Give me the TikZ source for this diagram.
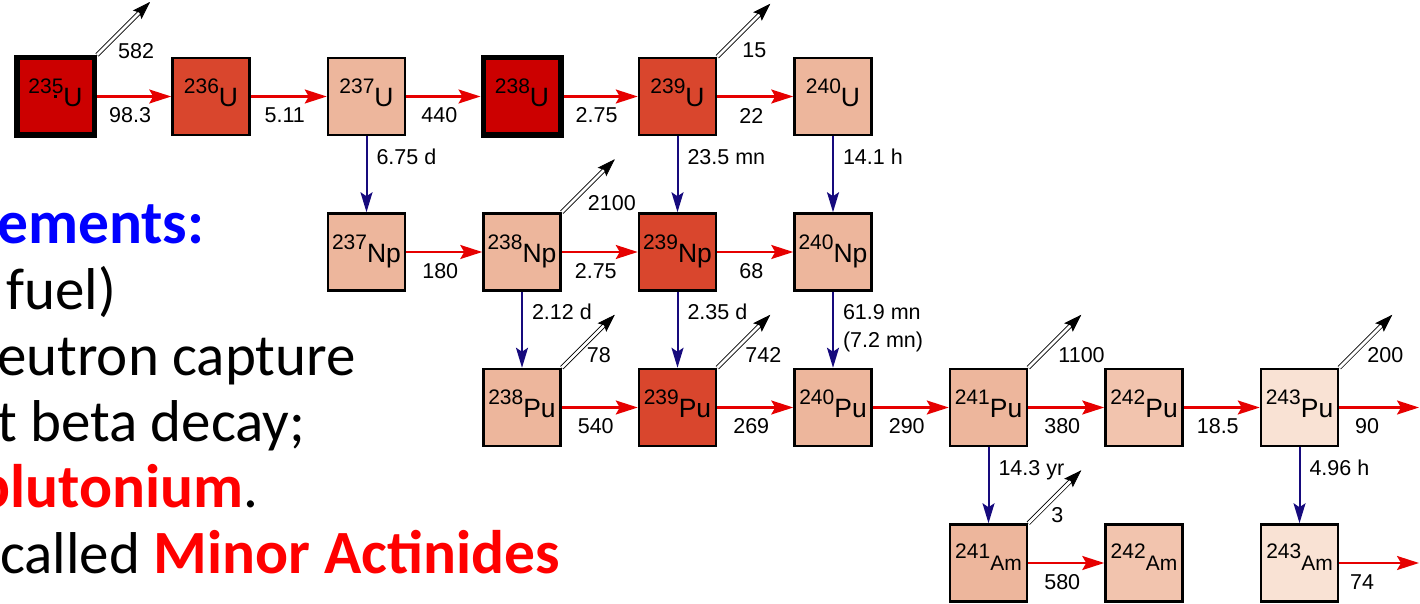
\documentclass[tikz,border=0pt]{standalone}
\usepackage{fontspec}
\setmainfont{Liberation Sans}
\newfontfamily\calfont{Carlito}
\usetikzlibrary{arrows.meta,calc}
\definecolor{cdark}{RGB}{204,0,0}
\definecolor{cmid}{RGB}{217,70,45}
\definecolor{clight}{RGB}{237,182,156}
\definecolor{clighter}{RGB}{242,196,174}
\definecolor{cpale}{RGB}{249,226,212}
\definecolor{rarr}{RGB}{230,0,0}
\definecolor{barr}{RGB}{22,10,125}
\definecolor{tblue}{RGB}{0,0,255}
\definecolor{tred}{RGB}{255,0,0}
\newcommand\isoA[2]{\raisebox{13pt}{\fontsize{21pt}{21pt}\selectfont #1}{\fontsize{26.5pt}{26.5pt}\selectfont #2}}
\newcommand\isoB[2]{\raisebox{12pt}{\fontsize{21pt}{21pt}\selectfont #1}{\fontsize{21pt}{21pt}\selectfont #2}}
\newcommand\bigbold[1]{{\fontsize{61.5pt}{66pt}\selectfont\bfseries #1}}
\newcommand\diag[4]{%
  \coordinate (#1-d) at ([shift={(53,-53)}]#1.north east);
  \draw[dblshaft] (#1.north east) -- (#1-d);
  \draw[dblhead] ($(#1-d)!1pt!(#1.north east)$) -- (#1-d);
  \node[dlab] (#1-dl) at ([shift={(#3,#4)}]#1.north east) {#2};
}
\tikzset{
  box/.style={draw=black, line width=2.5pt, minimum size=77pt, inner sep=0pt, text height=20pt, text depth=0pt},
  thickbox/.style={box, line width=5.5pt, minimum size=77.5pt},
  ambox/.style={box, text height=15pt},
  redarr/.style={draw=rarr, line width=2.2pt, -{Stealth[length=22pt,width=14pt,inset=4pt]}},
  bluearr/.style={draw=barr, line width=2pt, -{Stealth[length=20pt,width=12pt,inset=4pt]}},
  dblshaft/.style={draw=black, line width=0.8pt, double=white, double distance=2.8pt, shorten >=14pt},
  dblhead/.style={draw=black, fill=black, line width=0.8pt, -{Stealth[length=18pt,width=12pt,inset=3pt]}},
  lab/.style={font=\fontsize{21.5pt}{23pt}\selectfont, inner sep=0pt},
  rlab/.style={lab, midway, xshift=-4pt, yshift=-19pt},
  vlab/.style={lab, anchor=base west, xshift=9pt, pos=0.37},
  dlab/.style={lab, anchor=west},
  bigtxt/.style={font=\calfont\fontsize{59pt}{66pt}\selectfont, anchor=base west, inner sep=0pt}
}
\begin{document}
\begin{tikzpicture}[x=1pt,y=-1pt]
\useasboundingbox (0,0) rectangle (1420,604);
\clip (0,0) rectangle (1420,604);
% left text
\node[bigtxt] (t1) at (-3,243) {\color{tblue}\bigbold{ements:}};
\node[bigtxt] (t2) at (6,309) {fuel)};
\node[bigtxt] (t3) at (-3,375) {eutron capture};
\node[bigtxt] (t4) at (-3,441) {t beta decay;};
\node[bigtxt] (t5) at (-23,507) {\textcolor{tred}{\bigbold{plutonium}}.};
\node[bigtxt] (t6) at (0,573) {called \textcolor{tred}{\bigbold{Minor Actinides}}};
% boxes row U
\node[thickbox, fill=cdark] (u235) at (55.5,96.5) {\isoA{235}{U}};
\node[box, fill=cmid] (u236) at (211,96.5) {\isoA{236}{U}};
\node[box, fill=clight] (u237) at (366.5,96.5) {\isoA{237}{U}};
\node[thickbox, fill=cdark] (u238) at (522,96.5) {\isoA{238}{U}};
\node[box, fill=cmid] (u239) at (677.5,96.5) {\isoA{239}{U}};
\node[box, fill=clight] (u240) at (833,96.5) {\isoA{240}{U}};
\fill[black] ($(u235.center)+(-1.5,-1.5)$) rectangle ($(u235.center)+(1.5,1.5)$);
% row Np
\node[box, fill=clight] (np237) at (366.5,252) {\isoA{237}{Np}};
\node[box, fill=clight] (np238) at (522,252) {\isoA{238}{Np}};
\node[box, fill=cmid] (np239) at (677.5,252) {\isoA{239}{Np}};
\node[box, fill=clight] (np240) at (833,252) {\isoA{240}{Np}};
% row Pu
\node[box, fill=clight] (pu238) at (522,407.5) {\isoA{238}{Pu}};
\node[box, fill=cmid] (pu239) at (677.5,407.5) {\isoA{239}{Pu}};
\node[box, fill=clight] (pu240) at (833,407.5) {\isoA{240}{Pu}};
\node[box, fill=clight] (pu241) at (988.5,407.5) {\isoA{241}{Pu}};
\node[box, fill=clighter] (pu242) at (1144,407.5) {\isoA{242}{Pu}};
\node[box, fill=cpale] (pu243) at (1299.5,407.5) {\isoA{243}{Pu}};
% row Am
\node[ambox, fill=clight] (am241) at (988.5,563) {\isoB{241}{Am}};
\node[ambox, fill=clighter] (am242) at (1144,563) {\isoB{242}{Am}};
\node[ambox, fill=cpale] (am243) at (1299.5,563) {\isoB{243}{Am}};
\coordinate (pu243e) at (1419,407.5);
\coordinate (am243e) at (1419,563);
% red arrows
\draw[redarr] (u235) -- node[rlab]{98.3} (u236);
\draw[redarr] (u236) -- node[rlab]{5.11} (u237);
\draw[redarr] (u237) -- node[rlab]{440} (u238);
\draw[redarr] (u238) -- node[rlab]{2.75} (u239);
\draw[redarr] (u239) -- node[rlab]{22} (u240);
\draw[redarr] (np237) -- node[rlab]{180} (np238);
\draw[redarr] (np238) -- node[rlab]{2.75} (np239);
\draw[redarr] (np239) -- node[rlab]{68} (np240);
\draw[redarr] (pu238) -- node[rlab]{540} (pu239);
\draw[redarr] (pu239) -- node[rlab]{269} (pu240);
\draw[redarr] (pu240) -- node[rlab]{290} (pu241);
\draw[redarr] (pu241) -- node[rlab]{380} (pu242);
\draw[redarr] (pu242) -- node[rlab]{18.5} (pu243);
\draw[redarr] (pu243) -- node[rlab, xshift=-8pt]{90} (pu243e);
\draw[redarr] (am241) -- node[rlab]{580} (am242);
\draw[redarr] (am243) -- node[rlab, xshift=-13pt]{74} (am243e);
% blue arrows
\draw[bluearr] (u237) -- node[vlab]{6.75 d} (np237);
\draw[bluearr] (u239) -- node[vlab]{23.5 mn} (np239);
\draw[bluearr] (u240) -- node[vlab]{14.1 h} (np240);
\draw[bluearr] (np238) -- node[vlab]{2.12 d} (pu238);
\draw[bluearr] (np239) -- node[vlab]{2.35 d} (pu239);
\draw[bluearr] (np240) -- node[vlab]{61.9 mn} node[vlab, pos=0.727]{(7.2 mn)} (pu240);
\draw[bluearr] (pu241) -- node[vlab]{14.3 yr} (am241);
\draw[bluearr] (pu243) -- node[vlab]{4.96 h} (am243);
% diagonal double arrows
\diag{u235}{582}{21}{-4}
\diag{u239}{15}{25}{-7}
\diag{np238}{2100}{26}{-9}
\diag{pu238}{78}{25}{-13}
\diag{pu239}{742}{28}{-13}
\diag{pu241}{1100}{30}{-13}
\diag{pu243}{200}{28}{-13}
\diag{am241}{3}{23}{-8}
\end{tikzpicture}
\end{document}
